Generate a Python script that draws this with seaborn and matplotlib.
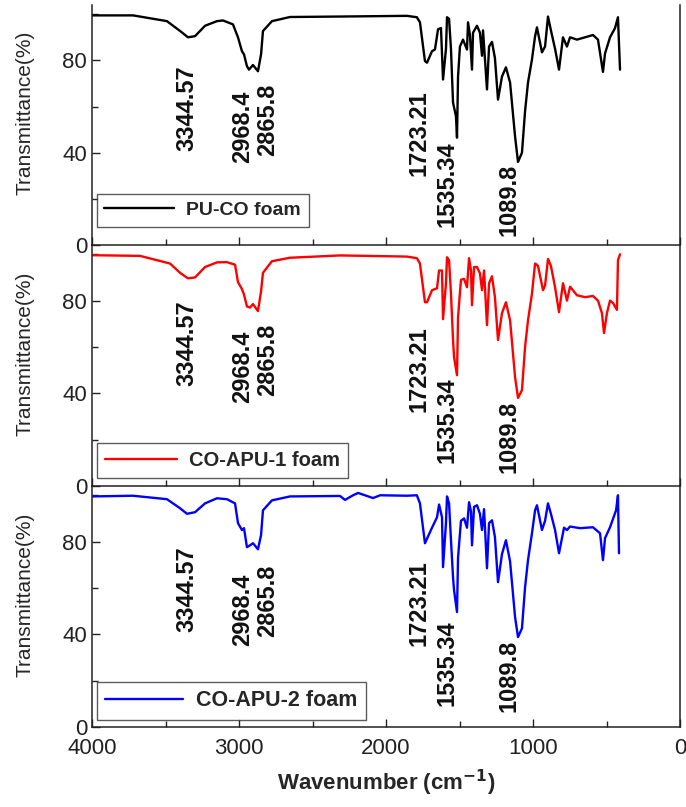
import numpy as np
import pandas as pd
import seaborn as sns
import matplotlib.pyplot as plt
from matplotlib.ticker import MultipleLocator

sns.set_style("ticks")
plt.rcParams['font.family'] = ['Liberation Sans', 'DejaVu Sans']

# FTIR spectra (wavenumber in cm-1, transmittance in %)
wn_puco = [4000, 3720, 3490, 3400, 3347, 3299, 3231, 3150, 3109, 3041, 3007, 2980, 2966, 2946, 2932,
           2905, 2871, 2850, 2837, 2776, 2653, 2313, 1857, 1790, 1769, 1735, 1721, 1687, 1667, 1646,
           1626, 1612, 1592, 1585, 1571, 1558, 1544, 1524, 1517, 1510, 1497, 1476, 1449, 1442, 1429,
           1415, 1408, 1381, 1361, 1347, 1340, 1313, 1299, 1279, 1259, 1238, 1211, 1184, 1156, 1122,
           1102, 1075, 1054, 1034, 1007, 986, 973, 939, 918, 898, 878, 850, 823, 796, 769,
           748, 701, 646, 592, 558, 524, 510, 476, 442, 422, 408]
tr_puco = [99.5, 99.5, 97, 92.7, 90, 90.5, 95, 97, 97.3, 95.6, 90, 84, 82.6, 77.5, 76,
           78, 75.3, 82.6, 92.7, 97, 98.8, 99, 99.3, 98.7, 96.5, 79.7, 79, 84, 84.7, 93.5,
           94, 71.7, 85, 98.7, 98, 85, 61.7, 55.8, 46.5, 73, 86, 89, 84.7, 96.5, 91,
           76, 92, 95, 92, 82, 93, 67.4, 86, 88, 81, 63, 73, 77, 70.4, 47,
           36, 40, 58, 70.4, 80.4, 90.4, 94.3, 83.5, 86, 99, 93, 85, 76, 90, 86,
           90, 89, 90, 91, 89, 75, 83, 90, 94, 98.7, 76]

wn_apu1 = [4000, 3673, 3469, 3401, 3347, 3299, 3231, 3150, 3082, 3027, 3007, 2980, 2966, 2946, 2925,
           2905, 2871, 2850, 2837, 2776, 2653, 2313, 1857, 1790, 1769, 1735, 1721, 1687, 1653, 1639,
           1619, 1612, 1592, 1585, 1571, 1558, 1544, 1537, 1517, 1510, 1490, 1469, 1449, 1435, 1422,
           1415, 1401, 1381, 1361, 1347, 1333, 1313, 1299, 1279, 1259, 1238, 1211, 1184, 1156, 1122,
           1102, 1075, 1054, 1034, 1007, 986, 966, 932, 918, 898, 878, 850, 823, 796, 769,
           748, 701, 646, 592, 558, 531, 517, 497, 476, 456, 429, 422, 408]
tr_apu1 = [99.6, 99.3, 96, 92, 89.6, 90, 94.5, 96.5, 96.6, 95.5, 88, 85, 82.6, 77.5, 77,
           78.5, 75.5, 84, 92, 97, 98.5, 99.5, 99, 98.3, 96, 79.3, 79.3, 84.5, 85.3, 93,
           93, 72, 87.5, 98.7, 97.4, 83, 63, 55.6, 47.8, 72.8, 89, 89.4, 85.8, 98.3, 93,
           78, 94.5, 94.5, 91.8, 84.5, 93, 69.4, 87.5, 90.5, 81.5, 63, 74.6, 79.3, 71.5, 47,
           38, 41.4, 60, 71.5, 83, 96, 95, 84.5, 86.5, 98, 95, 85.8, 75, 87.5, 80,
           86, 82.3, 81.5, 82, 80, 74.6, 66, 74.6, 80, 79, 76, 97.4, 100]

wn_apu2 = [4000, 3721, 3490, 3401, 3354, 3299, 3231, 3150, 3082, 3027, 3007, 2980, 2966, 2946, 2925,
           2905, 2871, 2850, 2837, 2776, 2653, 2313, 2279, 2224, 2190, 2088, 2040, 1857, 1790, 1769,
           1735, 1687, 1653, 1639, 1619, 1612, 1592, 1585, 1571, 1558, 1544, 1537, 1517, 1510, 1490,
           1469, 1449, 1435, 1422, 1415, 1401, 1381, 1361, 1347, 1333, 1313, 1299, 1279, 1259, 1238,
           1211, 1184, 1156, 1122, 1102, 1075, 1054, 1034, 1007, 986, 973, 939, 918, 898, 878,
           850, 823, 789, 769, 748, 680, 592, 544, 524, 510, 476, 435, 422, 415]
tr_apu2 = [99.5, 99.8, 98.3, 94.4, 92, 92.7, 96.5, 98.7, 98.3, 96.5, 88, 85, 85.8, 77.6, 78.4,
           79.3, 76.7, 82.8, 93.5, 97.8, 99.5, 99.7, 98, 100, 101, 98.8, 100, 99.8, 100, 96.5,
           79.3, 86, 90.5, 96, 90.5, 69, 88, 99.5, 96.5, 80.6, 64.6, 59, 49.6, 73, 89,
           90, 86, 97, 93, 78.4, 95, 95.7, 92, 85, 94, 68.5, 88, 89.2, 82, 62.5,
           74.6, 80.6, 71.5, 47.4, 38.8, 42.6, 60.3, 72, 83.6, 93.5, 95.7, 85, 89, 96.5, 92,
           85, 75, 86, 85, 86.5, 85.8, 86.2, 83.6, 72, 81.5, 86.2, 93.5, 100, 75]

series_labels = ["PU-CO foam", "CO-APU-1 foam", "CO-APU-2 foam"]
series_colors = ["black", "#ff0000", "#0000ff"]

# peak labels: text, x position of the label, top of the label (in %)
peak_text = ["3344.57", "2968.4", "2865.8", "1723.21", "1535.34", "1089.8"]
peak_x = [3354, 2975, 2805, 1775, 1585, 1160]
peak_top = [
    [78, 67, 70, 67, 45, 35],
    [80, 67, 70, 69, 47, 37],
    [78, 66, 70, 72, 46, 37.5],
]

W, H = 686, 807
fig = plt.figure(figsize=(W / 100, H / 100), dpi=100)

left, right = 92 / W, 680 / W
panel_px = [(5, 245), (245, 486), (486, 727)]
legend_y = [0.075, 0.033, 0.029]
legend_size = [14, 14.5, 15.5]

spectra = [(wn_puco, tr_puco), (wn_apu1, tr_apu1), (wn_apu2, tr_apu2)]

for i, ((wn, tr), lab, col) in enumerate(zip(spectra, series_labels, series_colors)):
    top_px, bot_px = panel_px[i]
    ax = fig.add_axes([left, 1 - bot_px / H, right - left, (bot_px - top_px) / H])
    df = pd.DataFrame({"wavenumber": wn, "transmittance": tr})
    sns.lineplot(data=df, x="wavenumber", y="transmittance", ax=ax, color=col,
                 lw=1.7, sort=False, estimator=None, label=lab)

    ax.set_xlim(4000, 0)
    ax.set_ylim(0, 104)
    ax.xaxis.set_major_locator(MultipleLocator(1000))
    ax.xaxis.set_minor_locator(MultipleLocator(500))
    ax.yaxis.set_major_locator(MultipleLocator(40))
    ax.yaxis.set_minor_locator(MultipleLocator(20))
    ax.tick_params(which="both", direction="in", top=False, right=False,
                   width=1.0, labelsize=16, colors="#222222")
    ax.tick_params(which="major", length=6)
    ax.tick_params(which="minor", length=4)
    ax.spines["top"].set_visible(False)
    for s in ["left", "bottom", "right"]:
        ax.spines[s].set_linewidth(1.1)
        ax.spines[s].set_color("#222222")
    ax.patch.set_alpha(0)

    ax.set_ylabel("Transmittance(%)", fontsize=15)
    ax.yaxis.set_label_coords(-0.098, 0.55)
    if i < 2:
        ax.set_xlabel("")
        ax.tick_params(axis="x", labelbottom=False)
    else:
        ax.set_xlabel("Wavenumber (cm$^{\\mathbf{-1}}$)", fontsize=16, fontweight="bold", labelpad=6)
        ax.tick_params(axis="x", pad=8)

    for txt, x, y in zip(peak_text, peak_x, peak_top[i]):
        ax.text(x, y, txt, rotation=90, ha="center", va="top", fontsize=17,
                fontweight="bold", color="#111111")

    leg = ax.legend(loc="lower left", bbox_to_anchor=(0.008, legend_y[i]), frameon=True,
                    fancybox=False, edgecolor="#333333", handlelength=3.6, borderaxespad=0,
                    prop={"size": legend_size[i], "weight": "bold"}, borderpad=0.4,
                    handletextpad=0.6)
    leg.get_frame().set_linewidth(1.0)

fig.savefig("out.png", dpi=100)
